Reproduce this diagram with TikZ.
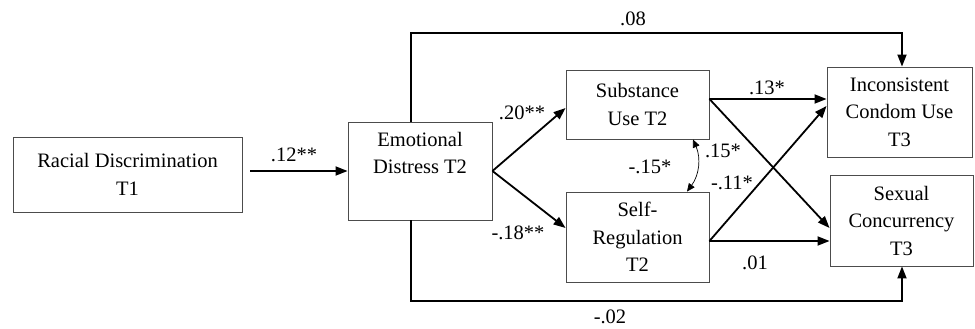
\documentclass[tikz,border=0pt]{standalone}
\usepackage{fontspec}
\setmainfont{Liberation Serif}
\usetikzlibrary{arrows.meta,calc}
\begin{document}
\begin{tikzpicture}[x=1pt,y=-1pt,
  box/.style={draw=black!70, line width=0.9pt, align=center, inner sep=0pt,
    font=\fontsize{20.5}{27.5}\selectfont},
  lab/.style={font=\fontsize{20.5}{24}\selectfont, inner sep=0pt},
  arr/.style={line width=1.8pt, -{Triangle[length=12pt,width=9pt]}},
  thinarr/.style={line width=0.7pt, {Triangle[length=8pt,width=7pt]}-{Triangle[length=8pt,width=7pt]}},
  ]
\useasboundingbox (0,0) rectangle (975,329);

\node[box, minimum width=229pt, minimum height=75pt] (RD) at (127.5,174.5) {Racial Discrimination\\T1};
\node[box, minimum width=144pt, minimum height=98pt] (ED) at (420,171) {Emotional\\Distress T2\\\strut};
\node[box, minimum width=143pt, minimum height=69pt] (SU) at (637.5,104.5) {Substance\\Use T2};
\node[box, minimum width=143pt, minimum height=90pt] (SR) at (637.5,237) {Self-\\Regulation\\T2};
\node[box, minimum width=145pt, minimum height=90pt] (IC) at (899.5,112) {Inconsistent\\Condom Use\\T3};
\node[box, minimum width=143pt, minimum height=91pt] (SC) at (901.5,220.5) {Sexual\\Concurrency\\T3};

\coordinate (topy) at (0,33);
\coordinate (boty) at (0,301);
\coordinate (edtop) at ($(ED.north)+(-9,0)$);
\coordinate (edbot) at ($(ED.south)+(-9,0)$);
\coordinate (icin) at ($(IC.north)+(2.5,0)$);
\coordinate (scin) at ($(SC.south)+(0.5,0)$);

% connectors
\draw[arr, shorten <=8pt] (RD.east |- ED.west) -- (ED.west);
\draw[arr] (ED.east) -- ([yshift=-3.5pt]SU.west);
\draw[arr] (ED.east) -- ([yshift=9pt]SR.west);
\draw[arr] ([yshift=5.5pt]SU.east) -- ([yshift=13pt]IC.west);
\draw[arr] ([yshift=5.5pt]SU.east) -- ([yshift=-7.5pt]SC.west);
\draw[arr] ([yshift=-4pt]SR.east) -- ([yshift=6pt]IC.west);
\draw[arr] ([yshift=-4pt]SR.east) -- ([yshift=-20.5pt]SC.west);
\draw[arr] (edtop) |- (icin |- topy) -- (icin);
\draw[arr] (edbot) |- (scin |- boty) -- (scin);
\draw[thinarr] ([xshift=55.5pt]SU.south) to[bend left=30] ([xshift=49.5pt]SR.north);

% labels
\node[lab] (l12) at (294,155) {.12**};
\node[lab] (l08) at (633,19) {.08};
\node[lab] (l20) at (522,113) {.20**};
\node[lab] (l18) at (518,233) {-.18**};
\node[lab] (l13) at (767,88) {.13*};
\node[lab] (l15n) at (650,167) {-.15*};
\node[lab] (l15) at (723,151) {.15*};
\node[lab] (l11) at (732,183) {-.11*};
\node[lab] (l01) at (755,263) {.01};
\node[lab] (l02) at (610,317) {-.02};
\end{tikzpicture}
\end{document}
